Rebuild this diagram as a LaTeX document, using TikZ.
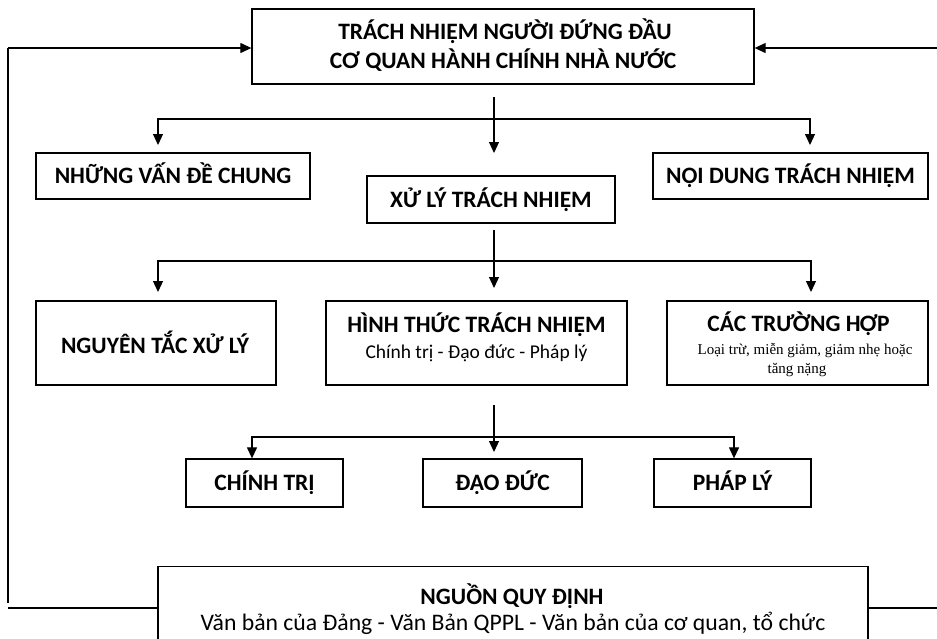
\documentclass[tikz,border=0pt]{standalone}
\usepackage{fontspec}
\setmainfont{Carlito}
\newfontfamily\tnr{Liberation Serif}
\usetikzlibrary{arrows.meta}
\tikzset{
  x=1pt, y=-1pt,
  box/.style={draw, line width=1.3pt, rectangle, inner sep=0pt,
    text height=15pt, text depth=0pt,
    font=\fontsize{23.5}{27}\selectfont\bfseries},
  ttl/.style={anchor=base, inner sep=0pt, font=\fontsize{23.5}{27}\selectfont\bfseries},
  sub/.style={anchor=base, inner sep=0pt, font=\fontsize{19.5}{23}\selectfont},
  subtnr/.style={anchor=base, inner sep=0pt, font=\tnr\fontsize{15}{17}\selectfont},
  subbig/.style={anchor=base, inner sep=0pt, font=\fontsize{23.7}{27}\selectfont},
  conn/.style={line width=1.2pt},
  arr/.style={line width=1.2pt, -{Triangle[length=11pt,width=10pt]}},
  arr2/.style={line width=1.2pt, {Triangle[length=11pt,width=10pt]}-{Triangle[length=11pt,width=10pt]}}
}
\begin{document}
\begin{tikzpicture}
\useasboundingbox (0,0) rectangle (937,638);
% boxes
\node[box, minimum width=502pt, minimum height=75pt] (top) at (503,46.5) {};
\node[ttl] (topA) at (505,39) {TRÁCH NHIỆM NGƯỜI ĐỨNG ĐẦU};
\node[ttl] (topB) at (503,68) {CƠ QUAN HÀNH CHÍNH NHÀ NƯỚC};
\node[box, minimum width=274pt, minimum height=46pt] (nvdc) at (173,176) {NHỮNG VẤN ĐỀ CHUNG};
\node[box, minimum width=248pt, minimum height=47pt] (xltn) at (491,199.5) {XỬ LÝ TRÁCH NHIỆM};
\node[box, minimum width=275pt, minimum height=46pt] (ndtn) at (790.5,176) {NỘI DUNG TRÁCH NHIỆM};
\node[box, minimum width=240pt, minimum height=84pt] (ntxl) at (156,343) {};
\node[ttl] (ntxlA) at (155,353) {NGUYÊN TẮC XỬ LÝ};
\node[box, minimum width=301pt, minimum height=84pt] (httn) at (476.5,343) {};
\node[ttl] (httnA) at (476.5,332) {HÌNH THỨC TRÁCH NHIỆM};
\node[sub] (httnB) at (476.5,358) {Chính trị - Đạo đức - Pháp lý};
\node[box, minimum width=261pt, minimum height=84pt] (cth) at (797.5,343) {};
\node[ttl] (cthA) at (798.5,331) {CÁC TRƯỜNG HỢP};
\node[subtnr] (cthB) at (805,354) {Loại trừ, miễn giảm, giảm nhẹ hoặc};
\node[subtnr] (cthC) at (797,373) {tăng nặng};
\node[box, minimum width=157pt, minimum height=48pt] (ct) at (264.5,483) {CHÍNH TRỊ};
\node[box, minimum width=159pt, minimum height=48pt] (dd) at (502.5,483) {ĐẠO ĐỨC};
\node[box, minimum width=157pt, minimum height=48pt] (pl) at (732.5,483) {PHÁP LÝ};
\node[box, anchor=north, minimum width=710pt, minimum height=90pt] (nguon) at (513,566) {};
\node[ttl] (nguonA) at (512,604) {NGUỒN QUY ĐỊNH};
\node[subbig] (nguonB) at (513,630) {Văn bản của Đảng - Văn Bản QPPL - Văn bản của cơ quan, tổ chức};
% level 1 connectors
\coordinate (a0) at (494,97);
\coordinate (a1) at (494,153);
\coordinate (l1) at (158,145);
\coordinate (h1) at (158,119);
\coordinate (h2) at (810,119);
\coordinate (r1) at (810,145);
\draw[arr] (a0) -- (a1);
\draw[arr2] (l1) -- (h1) -- (h2) -- (r1);
% level 2
\coordinate (b0) at (494,230);
\coordinate (b1) at (494,288);
\coordinate (l2) at (158,292);
\coordinate (k1) at (158,261);
\coordinate (k2) at (811,261);
\coordinate (r2) at (811,292);
\draw[arr] (b0) -- (b1);
\draw[arr2] (l2) -- (k1) -- (k2) -- (r2);
% level 3
\coordinate (c0) at (494,405);
\coordinate (c1) at (494,452);
\coordinate (m1) at (252,437);
\coordinate (m2) at (734,437);
\draw[arr] (c0) -- (c1);
\draw[arr2] (m1 |- ct.north) -- (m1) -- (m2) -- (m2 |- pl.north);
% feedback loops
\coordinate (lb) at (8,603);
\coordinate (lt) at (8,48);
\coordinate (lb2) at (8,608);
\draw[conn] (lb) -- (lt);
\draw[arr] (lt) -- (top.west |- lt);
\draw[conn] (lb2) -- (nguon.west |- lb2);
\coordinate (rt) at (937,48);
\coordinate (rb) at (937,608);
\draw[arr] (rt) -- (top.east |- rt);
\draw[conn] (nguon.east |- rb) -- (rb);
\end{tikzpicture}
\end{document}
